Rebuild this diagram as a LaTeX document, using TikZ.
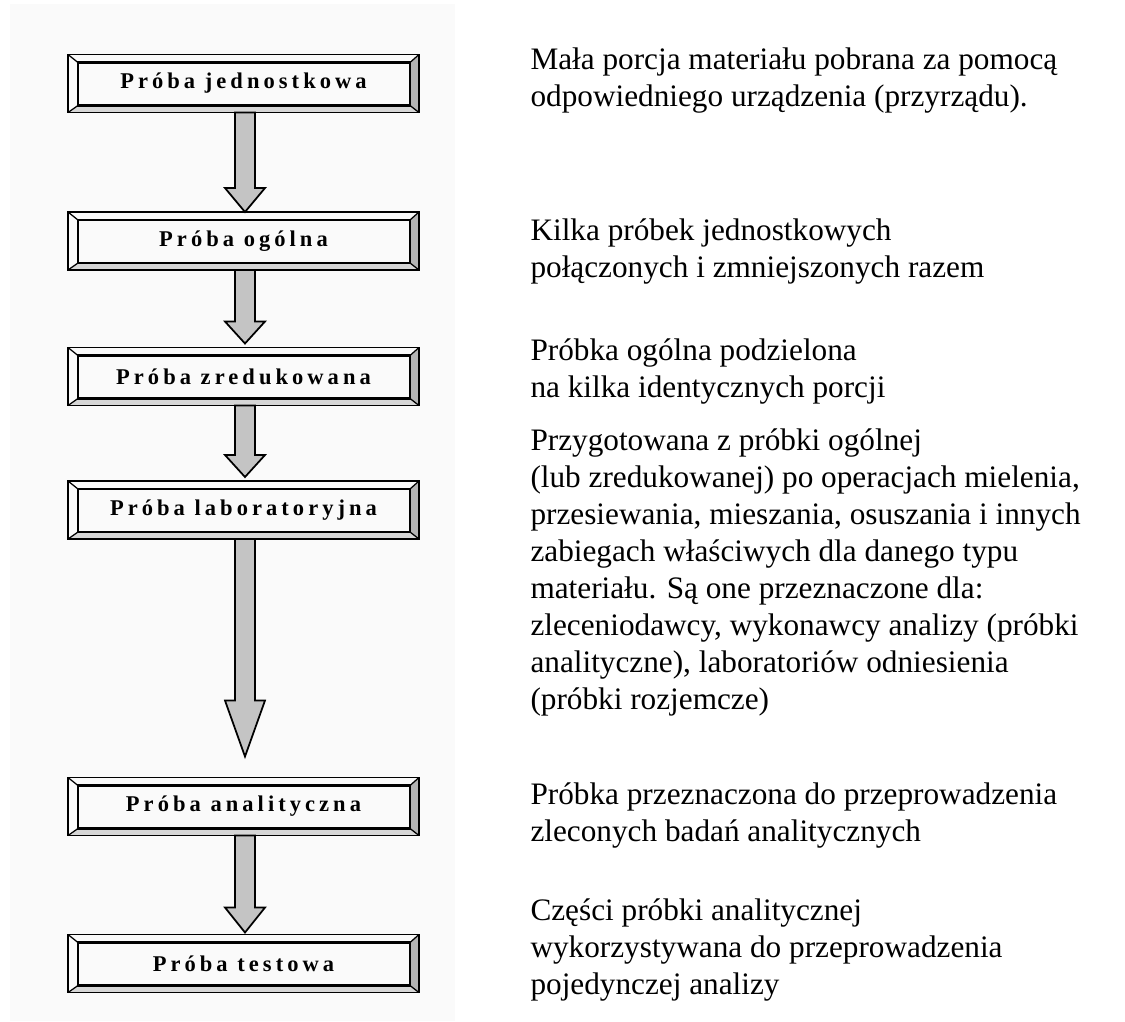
\documentclass[tikz,border=0pt]{standalone}
\usepackage{fontspec}
\setmainfont{Liberation Serif}
\newfontfamily\stagefont{Liberation Serif}[LetterSpace=18]
\usetikzlibrary{calc}

\definecolor{panel}{HTML}{FAFAFA}
\definecolor{arrowgray}{HTML}{C4C4C4}
\definecolor{bandgray}{HTML}{B4B4B4}
\definecolor{bandlight}{HTML}{D6D6D6}

\tikzset{
  stage/.style={minimum width=140pt, minimum height=22.8pt, inner sep=0pt,
    font=\stagefont\bfseries\fontsize{9}{10}\selectfont},
  note/.style={anchor=north west, align=left, inner sep=0pt,
    font=\fontsize{12.5}{14.8}\selectfont},
  arrowfill/.style={fill=arrowgray, draw=black, line width=0.7pt, line join=miter},
  outerline/.style={line width=0.5pt},
  innerline/.style={line width=1pt},
}

% bevelled frame around a stage node
\newcommand\bevelframe[1]{%
  \fill[bandgray] (#1.north east) -- ($(#1.north east)+(-9,8)$)
    -- ($(#1.south east)+(-9,-7)$) -- (#1.south east) -- cycle;
  \fill[bandlight] (#1.south west) -- ($(#1.south west)+(10,-7)$)
    -- ($(#1.south east)+(-9,-7)$) -- (#1.south east) -- cycle;
  \draw[outerline] (#1.north west) rectangle (#1.south east);
  \draw[innerline] ($(#1.north west)+(10,8)$) rectangle ($(#1.south east)+(-9,-7)$);
  \draw[outerline] (#1.north west) -- ($(#1.north west)+(10,8)$);
  \draw[outerline] (#1.north east) -- ($(#1.north east)+(-9,8)$);
  \draw[outerline] (#1.south west) -- ($(#1.south west)+(10,-7)$);
  \draw[outerline] (#1.south east) -- ($(#1.south east)+(-9,-7)$);
}

% block arrow from one stage to the next: #3 head length, #4 gap above target
\newcommand\flowarrow[4]{%
  \path[arrowfill] ($(#1.south)+(-8.5,0)$) -- ($(#2.north)+(-8.5,-#3-#4)$)
    -- ($(#2.north)+(-18.5,-#3-#4)$) -- ($(#2.north)+(1.5,-#4)$)
    -- ($(#2.north)+(21.5,-#3-#4)$) -- ($(#2.north)+(11.5,-#3-#4)$)
    -- ($(#1.south)+(11.5,0)$) -- cycle;
}

\begin{document}
\begin{tikzpicture}[x=0.4pt, y=-0.4pt]
  \useasboundingbox (0,0) rectangle (1125,1021);
  \fill[panel] (10,4) rectangle (455,1021);

  % stages
  \node[stage] (s1) at (243.5,83.5) {\raisebox{-1.4pt}{Próba jednostkowa}};
  \node[stage] (s2) at (243.5,241)  {\raisebox{-1.4pt}{Próba ogólna}};
  \node[stage] (s3) at (243.5,376.5) {\raisebox{-1.4pt}{Próba zredukowana}};
  \node[stage] (s4) at (243.5,510)  {\raisebox{-1.4pt}{Próba laboratoryjna}};
  \node[stage] (s5) at (243.5,806.5) {\raisebox{-1.4pt}{Próba analityczna}};
  \node[stage] (s6) at (243.5,963.5) {\raisebox{-1.4pt}{Próba testowa}};

  \foreach \s in {s1,s2,s3,s4,s5,s6} {\bevelframe{\s}}

  % arrows between stages
  \flowarrow{s1}{s2}{24}{0}
  \flowarrow{s2}{s3}{22}{4}
  \flowarrow{s3}{s4}{22}{4}
  \flowarrow{s4}{s5}{56}{21}
  \flowarrow{s5}{s6}{25}{2}

  % descriptions
  \node[note] (d1) at (530,47) {Mała porcja materiału pobrana za pomocą\\odpowiedniego urządzenia (przyrządu).};
  \node[note] (d2) at (530,218) {Kilka próbek jednostkowych\\połączonych i zmniejszonych razem};
  \node[note] (d3) at (530,338) {Próbka ogólna podzielona\\na kilka identycznych porcji};
  \node[note] (d4) at (530,428) {Przygotowana z próbki ogólnej\\(lub zredukowanej) po operacjach mielenia,\\przesiewania, mieszania, osuszania i innych\\zabiegach właściwych dla danego typu\\materiału. Są one przeznaczone dla:\\zleceniodawcy, wykonawcy analizy (próbki\\analityczne), laboratoriów odniesienia\\(próbki rozjemcze)};
  \node[note] (d5) at (530,782) {Próbka przeznaczona do przeprowadzenia\\zleconych badań analitycznych};
  \node[note] (d6) at (530,898) {Części próbki analitycznej\\wykorzystywana do przeprowadzenia\\pojedynczej analizy};
\end{tikzpicture}
\end{document}
